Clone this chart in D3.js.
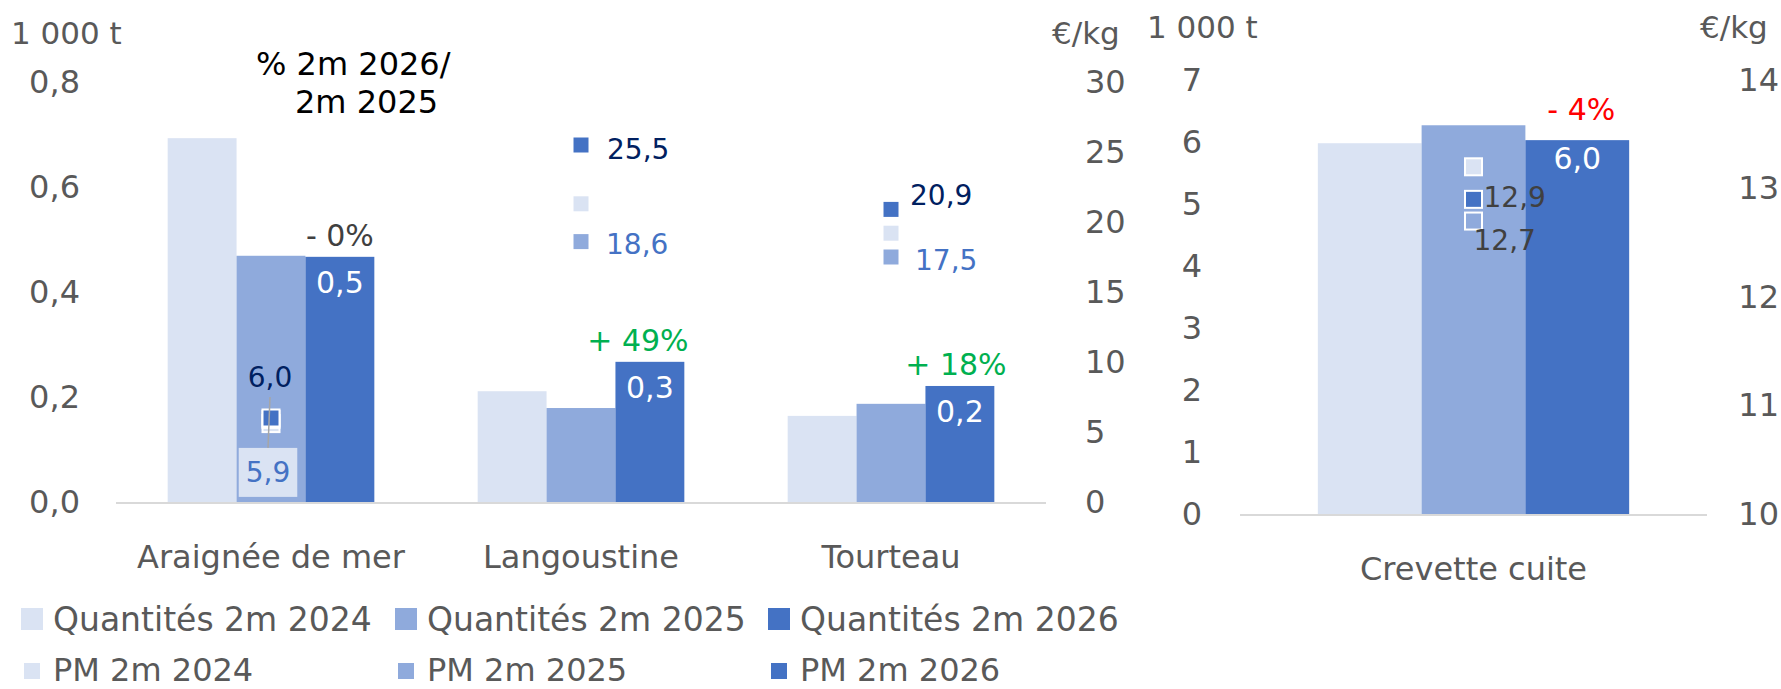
<!DOCTYPE html>
<html>
<head>
<meta charset="utf-8">
<script src="https://cdn.jsdelivr.net/npm/d3@7"></script>
<style>
html,body{margin:0;padding:0;background:#fff;}
svg{display:block;}
</style>
</head>
<body>
<svg id="chart" width="1781" height="689"></svg>
<script>
// ---------------- DATA ----------------
const categoriesA = ["Araignée de mer", "Langoustine", "Tourteau"];
const qty2024A = [0.693, 0.211, 0.164];
const qty2025A = [0.469, 0.179, 0.187];
const qty2026A = [0.467, 0.267, 0.221];
const pm2024A = [5.6, 21.3, 19.2];
const pm2025A = [5.9, 18.6, 17.5];
const pm2026A = [6.0, 25.5, 20.9];
const pctA = ["- 0%", "+ 49%", "+ 18%"];

const categoriesB = ["Crevette cuite"];
const qty2024B = [5.98];
const qty2025B = [6.27];
const qty2026B = [6.03];
const pm2024B = [13.2];
const pm2025B = [12.7];
const pm2026B = [12.9];
const pctB = ["- 4%"];

const ticksQtyA = [0, 0.2, 0.4, 0.6, 0.8];
const ticksPmA = [0, 5, 10, 15, 20, 25, 30];
const ticksQtyB = [0, 1, 2, 3, 4, 5, 6, 7];
const ticksPmB = [10, 11, 12, 13, 14];

const unitQty = "1 000 t";
const unitPm = "€/kg";
const titleLines = ["% 2m 2026/", "2m 2025"];
const legendLabels = ["Quantités 2m 2024", "Quantités 2m 2025", "Quantités 2m 2026",
                      "PM 2m 2024", "PM 2m 2025", "PM 2m 2026"];

// ---------------- STYLE ----------------
const FONT = "'DejaVu Sans', sans-serif";
const seriesColors = ["#DAE3F3", "#8FAADC", "#4472C4"];
const TXT = "#595959";
const fr = d3.formatLocale({decimal: ",", thousands: "\u00a0", grouping: [3], currency: ["", "€"]});
const f1 = fr.format(".1f");
const f0 = fr.format("d");

const svg = d3.select("#chart").style("font-family", FONT);

function pctColor(s) {
  const n = parseFloat(s.replace(/[^0-9.]/g, ""));
  if (n === 0) return "#404040";
  return s.trim().startsWith("+") ? "#00B050" : "#FF0000";
}

function drawChart(cfg) {
  const g = svg.append("g");
  const x = d3.scaleBand().domain(cfg.categories).range([cfg.x0, cfg.x1]);
  const xs = d3.scaleBand().domain([0, 1, 2]).range([0, x.bandwidth()]).paddingOuter(0.75);
  const yq = d3.scaleLinear().domain(cfg.qtyDomain).range([cfg.yBase, cfg.yTop]);
  const yp = d3.scaleLinear().domain(cfg.pmDomain).range([cfg.yBase, cfg.yTop]);

  const styleAxis = s => {
    s.select(".domain").remove();
    s.attr("font-family", FONT).attr("font-size", 32);
    s.selectAll("text").attr("fill", TXT);
  };
  g.append("g").attr("transform", `translate(${cfg.x0},0)`)
    .call(d3.axisLeft(yq).tickValues(cfg.qtyTicks).tickFormat(cfg.qtyFmt).tickSize(0).tickPadding(cfg.padL))
    .call(styleAxis);
  const rAx = g.append("g").attr("transform", `translate(${cfg.x1},0)`)
    .call(d3.axisRight(yp).tickValues(cfg.pmTicks).tickFormat(f0).tickSize(0).tickPadding(cfg.padR))
    .call(styleAxis);
  if (cfg.rightEnd) {
    rAx.selectAll(".tick text").attr("text-anchor", "end").attr("x", cfg.rightEnd - cfg.x1);
  }

  // axis unit titles
  g.append("text").attr("x", cfg.unitQtyX).attr("y", cfg.unitY).attr("fill", TXT)
    .attr("font-size", 31).text(unitQty);
  g.append("text").attr("x", cfg.unitPmX).attr("y", cfg.unitY).attr("fill", TXT)
    .attr("font-size", 31).text(unitPm);

  // bars
  const series = [cfg.q24, cfg.q25, cfg.q26];
  series.forEach((vals, si) => {
    g.append("g").selectAll("rect").data(vals).join("rect")
      .attr("x", (d, i) => x(cfg.categories[i]) + xs(si))
      .attr("width", xs.bandwidth())
      .attr("y", d => yq(d))
      .attr("height", d => yq(0) - yq(d))
      .attr("fill", seriesColors[si]);
  });

  // baseline
  g.append("line").attr("x1", cfg.x0).attr("x2", cfg.x1)
    .attr("y1", yq(0) + 1).attr("y2", yq(0) + 1)
    .attr("stroke", "#D9D9D9").attr("stroke-width", 2);

  // category labels
  g.append("g").selectAll("text").data(cfg.categories).join("text")
    .attr("x", d => x(d) + x.bandwidth() / 2)
    .attr("y", cfg.catY)
    .attr("text-anchor", "middle").attr("font-size", 32).attr("fill", TXT)
    .text(d => d);

  // quantity labels (2026) inside end
  g.append("g").selectAll("text").data(cfg.q26).join("text")
    .attr("x", (d, i) => x(cfg.categories[i]) + xs(2) + xs.bandwidth() / 2)
    .attr("y", d => yq(d) + cfg.qtyLabelDy)
    .attr("dominant-baseline", "central")
    .attr("text-anchor", "middle").attr("font-size", 30).attr("fill", "#fff")
    .text(d => f1(d));

  // percent labels
  g.append("g").selectAll("text").data(cfg.pct).join("text")
    .attr("x", (d, i) => x(cfg.categories[i]) + xs(2) + xs.bandwidth() / 2 + cfg.pctDx[i])
    .attr("y", (d, i) => yq(cfg.q26[i]) + cfg.pctDy)
    .attr("dominant-baseline", "central")
    .attr("text-anchor", "middle").attr("font-size", 30)
    .attr("fill", d => pctColor(d))
    .text(d => d);

  // price markers
  const pms = [cfg.p24, cfg.p25, cfg.p26];
  const ms = 17;
  pms.forEach((vals, si) => {
    g.append("g").selectAll("rect").data(vals).join("rect")
      .attr("x", (d, i) => x(cfg.categories[i]) + x.bandwidth() / 2 - ms / 2)
      .attr("y", d => yp(d) - ms / 2)
      .attr("width", ms).attr("height", ms)
      .attr("fill", seriesColors[si])
      .attr("stroke", "#fff").attr("stroke-width", 2);
  });

  // price labels (2025 & 2026)
  const labelSeries = [
    {vals: cfg.p25, pos: cfg.pos25, color: cfg.col25, box: cfg.box25},
    {vals: cfg.p26, pos: cfg.pos26, color: cfg.col26, box: []}
  ];
  const placed = {};
  labelSeries.forEach((ls, k) => {
    ls.vals.forEach((v, i) => {
      const cx = x(cfg.categories[i]) + x.bandwidth() / 2;
      const cy = yp(v);
      const p = ls.pos[i];
      const t = g.append("text")
        .attr("x", cx + p[0]).attr("y", cy + p[1])
        .attr("dominant-baseline", "central")
        .attr("text-anchor", p[2])
        .attr("font-size", 28).attr("fill", ls.color)
        .text(f1(v));
      if (ls.box[i]) {
        const bb = t.node().getBBox();
        g.insert("rect", () => t.node())
          .attr("x", bb.x - 7).attr("y", bb.y - 8)
          .attr("width", bb.width + 14).attr("height", bb.height + 16)
          .attr("fill", seriesColors[0]);
        placed["box" + i] = {x: cx + p[0], y: bb.y - 8};
      }
      placed[k + "_" + i] = {x: cx + p[0], y: cy + p[1]};
    });
  });
  // leader line for boxed labels
  cfg.box25.forEach((b, i) => {
    if (!b) return;
    const top = placed["1_" + i], bottom = placed["box" + i];
    g.append("line")
      .attr("x1", top.x).attr("y1", top.y + 20)
      .attr("x2", bottom.x).attr("y2", bottom.y)
      .attr("stroke", "#A6A6A6").attr("stroke-width", 1.5);
  });
}

drawChart({
  categories: categoriesA,
  x0: 116, x1: 1046, yTop: 82, yBase: 502,
  qtyDomain: [0, 0.8], pmDomain: [0, 30],
  qtyTicks: ticksQtyA, pmTicks: ticksPmA, qtyFmt: f1,
  padL: 36, padR: 39, rightEnd: null,
  unitQtyX: 11, unitPmX: 1052, unitY: 44,
  catY: 568,
  q24: qty2024A, q25: qty2025A, q26: qty2026A,
  p24: pm2024A, p25: pm2025A, p26: pm2026A,
  pct: pctA, pctDx: [0, -12, -4], pctDy: -21, qtyLabelDy: 26,
  pos25: [[-3, 53, "middle"], [25, 3, "start"], [24, 3, "start"]],
  pos26: [[-1, -41, "middle"], [26, 4, "start"], [19, -14, "start"]],
  col25: "#4472C4", col26: "#002060",
  box25: [true, false, false]
});

drawChart({
  categories: categoriesB,
  x0: 1240, x1: 1707, yTop: 80, yBase: 514,
  qtyDomain: [0, 7], pmDomain: [10, 14],
  qtyTicks: ticksQtyB, pmTicks: ticksPmB, qtyFmt: f0,
  padL: 38, padR: 36, rightEnd: 1779,
  unitQtyX: 1147, unitPmX: 1700, unitY: 38,
  catY: 580,
  q24: qty2024B, q25: qty2025B, q26: qty2026B,
  p24: pm2024B, p25: pm2025B, p26: pm2026B,
  pct: pctB, pctDx: [4], pctDy: -31, qtyLabelDy: 18,
  pos25: [[0, 19, "start"]],
  pos26: [[10, -2, "start"]],
  col25: "#404040", col26: "#404040",
  box25: [false]
});

// title for percent labels
svg.append("g").selectAll("text").data(titleLines).join("text")
  .attr("x", (d, i) => i === 0 ? 256 : 295)
  .attr("y", (d, i) => 75 + i * 38)
  .attr("font-size", 32).attr("fill", "#000")
  .text(d => d);

// legend
const legend = svg.append("g");
const colX = [21, 395, 768];
legendLabels.forEach((lab, i) => {
  const col = i % 3, row = Math.floor(i / 3);
  const sw = row === 0 ? 22 : 16;
  const cy = row === 0 ? 619 : 671;
  legend.append("rect")
    .attr("x", colX[col] + (22 - sw) / 2).attr("y", cy - sw / 2)
    .attr("width", sw).attr("height", sw)
    .attr("fill", seriesColors[col]);
  legend.append("text")
    .attr("x", colX[col] + 32).attr("y", row === 0 ? 631 : 681)
    .attr("font-size", row === 0 ? 33 : 32).attr("fill", TXT)
    .text(lab);
});
</script>
</body>
</html>
